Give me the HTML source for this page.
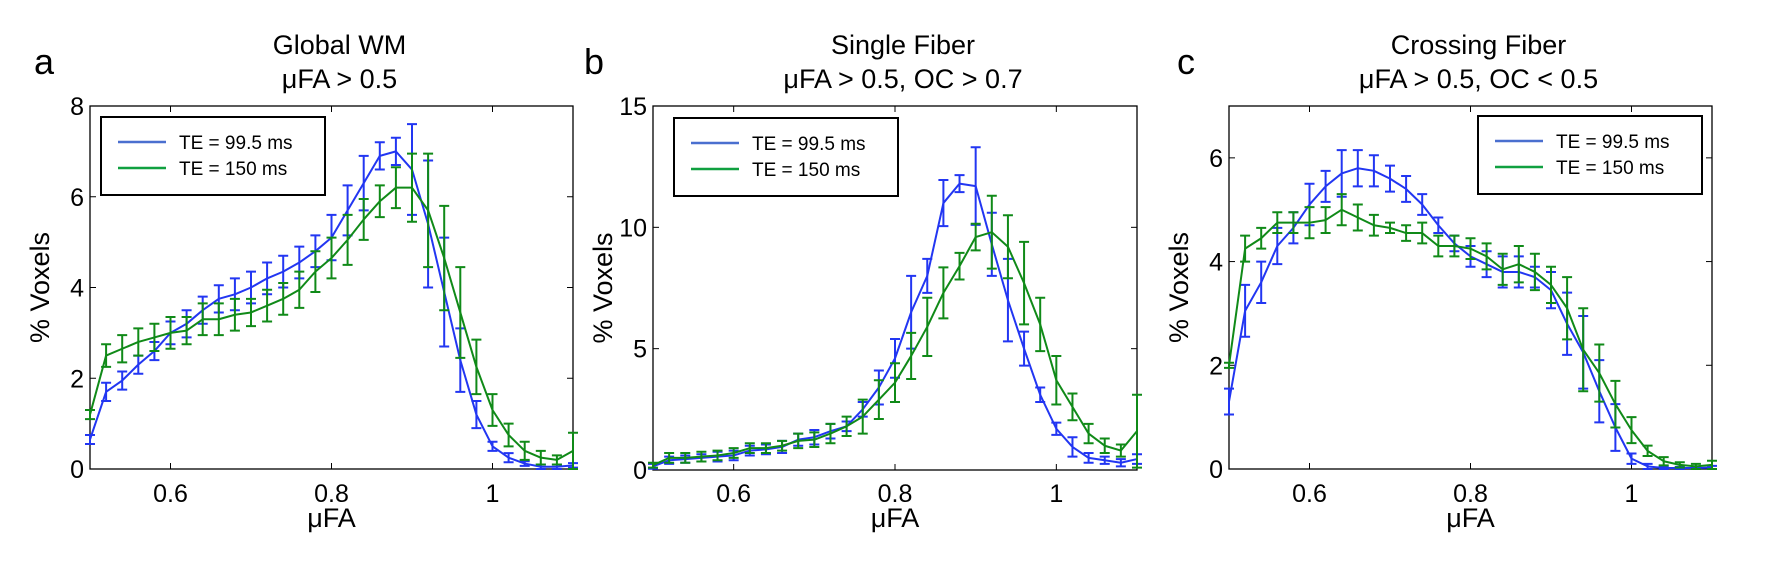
<!DOCTYPE html>
<html><head><meta charset="utf-8">
<style>
body{margin:0;background:#fff;}
svg{display:block;font-family:"Liberation Sans",sans-serif;}
</style></head>
<body>
<svg id="fig" width="1769" height="566" viewBox="0 0 1769 566" xmlns="http://www.w3.org/2000/svg"></svg>
<script>
const xs = [0.5,0.52,0.54,0.56,0.58,0.6,0.62,0.64,0.66,0.68,0.7,0.72,0.74,0.76,0.78,0.8,0.82,0.84,0.86,0.88,0.9,0.92,0.94,0.96,0.98,1.0,1.02,1.04,1.06,1.08,1.1];
const xTicks = [0.6,0.8,1];
const xTickLabels = ["0.6","0.8","1"];
const seriesNames = ["TE = 99.5 ms","TE = 150 ms"];

const aBlue = [0.65,1.7,1.95,2.3,2.6,3.0,3.2,3.5,3.75,3.85,4.0,4.2,4.35,4.55,4.8,5.1,5.7,6.3,6.9,7.0,6.6,5.4,3.9,2.4,1.2,0.5,0.25,0.12,0.05,0.05,0.08];
const aBlueErr = [0.1,0.2,0.2,0.2,0.2,0.25,0.3,0.3,0.3,0.35,0.35,0.35,0.35,0.35,0.35,0.5,0.55,0.6,0.3,0.3,1.0,1.4,1.2,0.7,0.3,0.1,0.1,0.05,0.05,0.05,0.05];
const aGreen = [1.2,2.5,2.65,2.8,2.9,3.0,3.05,3.3,3.3,3.4,3.45,3.6,3.75,3.95,4.35,4.65,5.05,5.5,5.9,6.2,6.2,5.7,4.65,3.45,2.25,1.3,0.75,0.4,0.25,0.2,0.4];
const aGreenErr = [0.1,0.25,0.3,0.3,0.3,0.35,0.3,0.35,0.35,0.35,0.3,0.35,0.35,0.4,0.45,0.45,0.55,0.45,0.35,0.45,0.75,1.25,1.15,1.0,0.6,0.35,0.25,0.2,0.15,0.1,0.4];
const aYTicks = [0,2,4,6,8];

const bBlue = [0.15,0.4,0.45,0.5,0.55,0.6,0.8,0.85,0.95,1.25,1.35,1.6,1.8,2.5,3.4,4.6,6.5,8.0,11.0,11.8,11.7,9.3,7.0,5.0,3.1,1.7,0.95,0.5,0.4,0.3,0.45];
const bBlueErr = [0.1,0.15,0.15,0.15,0.2,0.2,0.2,0.2,0.25,0.25,0.3,0.3,0.2,0.3,0.7,0.8,1.5,0.7,0.95,0.35,1.6,1.3,1.7,0.7,0.3,0.25,0.4,0.2,0.15,0.15,0.2];
const bGreen = [0.2,0.5,0.5,0.55,0.6,0.7,0.9,0.9,1.0,1.2,1.25,1.5,1.8,2.2,2.9,3.6,4.7,5.9,7.3,8.4,9.6,9.8,9.2,7.7,6.0,3.7,2.6,1.5,1.0,0.8,1.6];
const bGreenErr = [0.1,0.2,0.2,0.2,0.2,0.2,0.2,0.2,0.2,0.3,0.3,0.4,0.4,0.7,0.8,0.8,0.95,1.2,1.05,0.55,0.55,1.5,1.3,1.7,1.1,1.0,0.55,0.4,0.3,0.25,1.5];
const bYTicks = [0,5,10,15];

const cBlue = [1.3,3.05,3.6,4.3,4.65,5.1,5.45,5.7,5.8,5.75,5.6,5.4,5.1,4.7,4.35,4.1,3.95,3.8,3.8,3.7,3.45,2.8,2.25,1.5,0.8,0.2,0.05,0.02,0.02,0.02,0.03];
const cBlueErr = [0.25,0.5,0.4,0.35,0.3,0.4,0.3,0.45,0.35,0.3,0.25,0.25,0.2,0.15,0.15,0.2,0.25,0.3,0.3,0.2,0.35,0.6,0.7,0.6,0.45,0.1,0.05,0.03,0.02,0.02,0.03];
const cGreen = [2.0,4.25,4.45,4.75,4.75,4.75,4.8,5.0,4.85,4.7,4.65,4.55,4.55,4.3,4.3,4.25,4.1,3.85,3.95,3.8,3.55,3.1,2.3,1.85,1.25,0.75,0.35,0.15,0.08,0.05,0.08];
const cGreenErr = [0.05,0.25,0.2,0.2,0.2,0.3,0.25,0.3,0.25,0.2,0.1,0.15,0.2,0.2,0.2,0.2,0.25,0.3,0.35,0.35,0.35,0.6,0.8,0.55,0.45,0.25,0.1,0.08,0.05,0.05,0.08];
const cYTicks = [0,2,4,6];

const NS="http://www.w3.org/2000/svg";
const svg=document.getElementById('fig');
const BLUE="#2236f2", GREEN="#108a18";
function mk(tag,attrs,parent){const e=document.createElementNS(NS,tag);for(const k in attrs)e.setAttribute(k,attrs[k]);(parent||svg).appendChild(e);return e;}
function txt(s,attrs,parent){const e=mk('text',attrs,parent);e.textContent=s;return e;}

function panel(p){
  const g=mk('g',{});
  
  
  const X=v=>p.l+(v-0.5)/(0.6)*(p.r-p.l);
  const Y=v=>p.b-(v/p.ymax)*(p.b-p.t);
  // letter
  const L=txt(p.id,{x:p.letterX,y:74,'font-size':36,fill:'#000'},g);
  
  
  const cx=(p.l+p.r)/2+8;
  const t1=txt(p.title1,{x:cx,y:54,'font-size':27,'text-anchor':'middle'},g);
  
  
  const t2=txt(p.title2,{x:cx,y:88,'font-size':27,'text-anchor':'middle'},g);
  
  
  // axes box
  const box=mk('rect',{x:p.l,y:p.t,width:p.r-p.l,height:p.b-p.t,fill:'none',stroke:'#000','stroke-width':1.3},g);
  
  
  // x ticks
  xTicks.forEach((v,i)=>{
    const x=X(v);
    mk('line',{x1:x,y1:p.b,x2:x,y2:p.b-6,stroke:'#000','stroke-width':1},g);
    mk('line',{x1:x,y1:p.t,x2:x,y2:p.t+6,stroke:'#000','stroke-width':1},g);
    const tl=txt(xTickLabels[i],{x:x,y:502,'font-size':25,'text-anchor':'middle'},g);
    
    
  });
  p.yticks.forEach(v=>{
    const y=Y(v);
    mk('line',{x1:p.l,y1:y,x2:p.l+6,y2:y,stroke:'#000','stroke-width':1},g);
    mk('line',{x1:p.r,y1:y,x2:p.r-6,y2:y,stroke:'#000','stroke-width':1},g);
    const tl=txt(String(v),{x:p.l-6,y:y+9,'font-size':25,'text-anchor':'end'},g);
    
    
  });
  const xl=txt('\u03bcFA',{x:(p.l+p.r)/2,y:527,'font-size':27,'text-anchor':'middle'},g);
  
  
  const yx=p.l-41, yy=(p.t+p.b)/2;
  const yl=txt('% Voxels',{x:yx,y:yy,'font-size':27,'text-anchor':'middle',transform:`rotate(-90 ${yx} ${yy})`},g);
  
  
  // series
  [[p.blue,p.blueErr,BLUE,'blue'],[p.green,p.greenErr,GREEN,'green']].forEach(([vals,errs,col,nm])=>{
    const sg=mk('g',{},g);
    
    
    xs.forEach((xv,i)=>{
      const x=X(xv), y1=Y(vals[i]+errs[i]), y2=Y(Math.max(0,vals[i]-errs[i]));
      const eb=mk('path',{d:`M${x},${y1}V${y2}M${x-5},${y1}H${x+5}M${x-5},${y2}H${x+5}`,stroke:col,'stroke-width':2,fill:'none'},sg);
      
      
    });
    const pl=mk('polyline',{points:xs.map((xv,i)=>X(xv)+','+Y(vals[i])).join(' '),fill:'none',stroke:col,'stroke-width':2,'stroke-linejoin':'round'},sg);
    
    
  });
  // legend
  const lg=mk('g',{},g);
  
  
  mk('rect',{x:p.lg[0],y:p.lg[1],width:p.lg[2],height:78,fill:'#fff',stroke:'#000','stroke-width':2},lg);
  [['#4a6fcf',0],['#10a040',1]].forEach(([c,i])=>{
    const ly=p.lg[1]+25+i*26;
    const e=mk('g',{},lg);
    
    
    mk('line',{x1:p.lg[0]+17,y1:ly,x2:p.lg[0]+65,y2:ly,stroke:c,'stroke-width':2.5},e);
    txt(seriesNames[i],{x:p.lg[0]+78,y:ly+7,'font-size':19},e);
  });
}
panel({id:'a',l:90,r:573,t:106,b:469,ymax:8,yticks:aYTicks,letterX:34,title1:'Global WM',title2:'\u03bcFA > 0.5',blue:aBlue,blueErr:aBlueErr,green:aGreen,greenErr:aGreenErr,lg:[101,117,224]});
panel({id:'b',l:653,r:1137,t:106,b:470,ymax:15,yticks:bYTicks,letterX:584,title1:'Single Fiber',title2:'\u03bcFA > 0.5, OC > 0.7',blue:bBlue,blueErr:bBlueErr,green:bGreen,greenErr:bGreenErr,lg:[674,118,224]});
panel({id:'c',l:1229,r:1712,t:106,b:469,ymax:7,yticks:cYTicks,letterX:1177,title1:'Crossing Fiber',title2:'\u03bcFA > 0.5, OC < 0.5',blue:cBlue,blueErr:cBlueErr,green:cGreen,greenErr:cGreenErr,lg:[1478,116,224]});
</script>
</body></html>
